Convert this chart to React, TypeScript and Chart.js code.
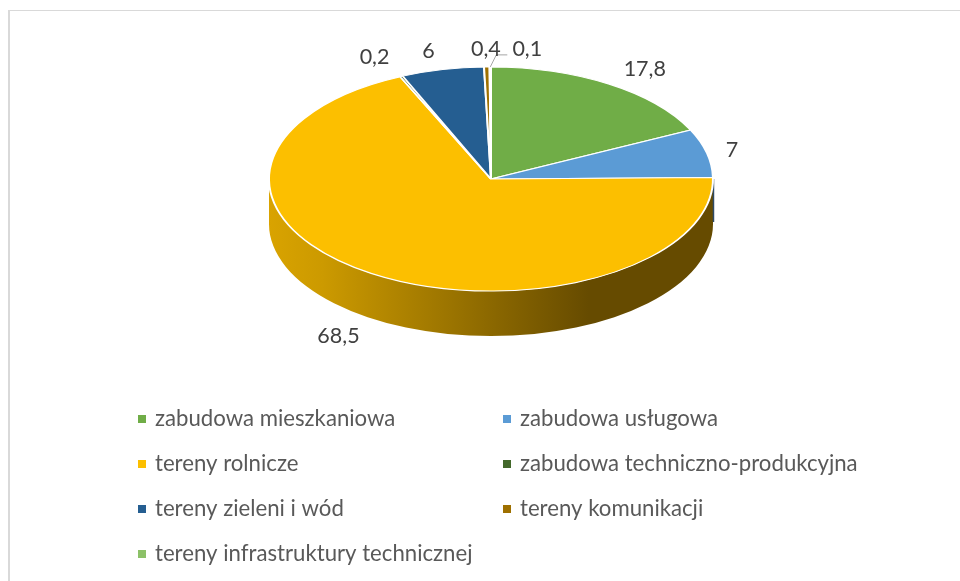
import React, { useEffect, useRef } from "react";
import { Chart, registerables } from "chart.js";

Chart.register(...registerables);

const categories = [
  "zabudowa mieszkaniowa",
  "zabudowa usługowa",
  "tereny rolnicze",
  "zabudowa techniczno-produkcyjna",
  "tereny zieleni i wód",
  "tereny komunikacji",
  "tereny infrastruktury technicznej",
];
const shares = [17.8, 7, 68.5, 0.2, 6, 0.4, 0.1];
const shareLabels = ["17,8", "7", "68,5", "0,2", "6", "0,4", "0,1"];
const colors = ["#70AD47", "#5B9BD5", "#FCBF00", "#43682B", "#255E91", "#9E7000", "#8CC168"];

// Pixel offsets of each value label from the rim point of its slice.
const labelOffsets = [
  [36, -15],
  [25, -3],
  [-33, 63],
  [-27, -19],
  [-14, -19],
  [-1, -18],
  [37, -18],
];

const CENTER_Y = 179;
const SQUASH = 0.505;
const DEPTH = 45;
const FONT = "Lato, Carlito, sans-serif";

function pieGeometry(chart: any) {
  const arcs = chart.getDatasetMeta(0).data as any[];
  return { arcs, cx: arcs[0].x, cy: arcs[0].y, r: arcs[0].outerRadius };
}

const pie3d = {
  id: "pie3d",
  beforeDatasetsDraw(chart: any) {
    const { ctx } = chart;
    const { arcs, cx, r } = pieGeometry(chart);
    const ry = r * SQUASH;
    ctx.save();
    // Outer wall of the disc, front half only.
    const wall = ctx.createLinearGradient(cx - r, 0, cx + r, 0);
    wall.addColorStop(0, "#D9A300");
    wall.addColorStop(0.12, "#CC9A00");
    wall.addColorStop(0.72, "#664B00");
    wall.addColorStop(1, "#664B00");
    arcs.forEach((arc: any) => {
      const a0 = Math.max(arc.startAngle, 0);
      const a1 = Math.min(arc.endAngle, Math.PI);
      if (a1 <= a0) return;
      ctx.beginPath();
      ctx.ellipse(cx, CENTER_Y, r, ry, 0, a0, a1);
      ctx.ellipse(cx, CENTER_Y + DEPTH, r, ry, 0, a1, a0, true);
      ctx.closePath();
      ctx.fillStyle = wall;
      ctx.fill();
    });
    // Thin dark edge of the slice that ends just above the right-hand rim.
    const edge = arcs.find((a: any) => a.endAngle <= 0 && a.endAngle > -0.05);
    if (edge) {
      const x = cx + r * Math.cos(edge.endAngle) + 0.5;
      ctx.strokeStyle = "#2F4A66";
      ctx.lineWidth = 1.5;
      ctx.beginPath();
      ctx.moveTo(x, CENTER_Y);
      ctx.lineTo(x, CENTER_Y + DEPTH - 2);
      ctx.stroke();
    }
    ctx.restore();
    // Squash the library's own arcs into the top face of the disc.
    ctx.save();
    ctx.translate(0, CENTER_Y);
    ctx.scale(1, SQUASH);
    ctx.translate(0, -chart.getDatasetMeta(0).data[0].y);
  },
  afterDatasetsDraw(chart: any) {
    const { ctx } = chart;
    ctx.restore();
    const { arcs, cx, r } = pieGeometry(chart);
    const ry = r * SQUASH;

    // Leader line of the smallest slice.
    const last = arcs[arcs.length - 1];
    const mid = (last.startAngle + last.endAngle) / 2;
    const lx = cx + r * Math.cos(mid);
    const ly = CENTER_Y + ry * Math.sin(mid);
    ctx.save();
    ctx.strokeStyle = "#A6A6A6";
    ctx.lineWidth = 1;
    ctx.beginPath();
    ctx.moveTo(lx, ly);
    ctx.lineTo(lx + 6, ly - 12);
    ctx.lineTo(lx + 17, ly - 12);
    ctx.stroke();

    // Value labels.
    ctx.font = `21.5px ${FONT}`;
    ctx.fillStyle = "#404040";
    ctx.textAlign = "center";
    ctx.textBaseline = "middle";
    arcs.forEach((arc: any, i: number) => {
      const m = (arc.startAngle + arc.endAngle) / 2;
      const x = cx + r * Math.cos(m) + labelOffsets[i][0];
      const y = CENTER_Y + ry * Math.sin(m) + labelOffsets[i][1];
      ctx.fillText(shareLabels[i], x, y);
    });

    // Legend: two columns, filled row by row.
    ctx.font = `22.2px ${FONT}`;
    ctx.textAlign = "left";
    categories.forEach((name, i) => {
      const col = i % 2;
      const row = Math.floor(i / 2);
      const sx = col === 0 ? 138 : 503;
      const y = 419 + row * 45;
      ctx.fillStyle = colors[i];
      ctx.fillRect(sx, y - 4, 8, 8);
      ctx.fillStyle = "#595959";
      ctx.fillText(name, sx + 17, y);
    });

    // Frame of the chart: top and left edges only are in view.
    ctx.fillStyle = "#D9D9D9";
    ctx.fillRect(8, 10, 952, 1);
    ctx.fillRect(8, 10, 2, 571);
    ctx.restore();
  },
};

export default function App() {
  const ref = useRef<HTMLCanvasElement>(null);
  useEffect(() => {
    const chart = new Chart(ref.current!, {
      type: "pie",
      data: {
        labels: categories,
        datasets: [
          {
            data: shares,
            backgroundColor: colors,
            borderColor: "#FFFFFF",
            borderWidth: 2,
          },
        ],
      },
      options: {
        animation: false,
        responsive: false,
        maintainAspectRatio: false,
        layout: { padding: { left: 268, right: 246, top: 0, bottom: 0 } },
        plugins: { legend: { display: false }, tooltip: { enabled: false } },
      },
      plugins: [pie3d],
    } as any);
    return () => chart.destroy();
  }, []);
  return (
    <div style={{ position: "absolute", left: 0, top: 0, width: 960, height: 581, background: "#fff" }}>
      <canvas ref={ref} width={960} height={581} style={{ display: "block" }} />
    </div>
  );
}
